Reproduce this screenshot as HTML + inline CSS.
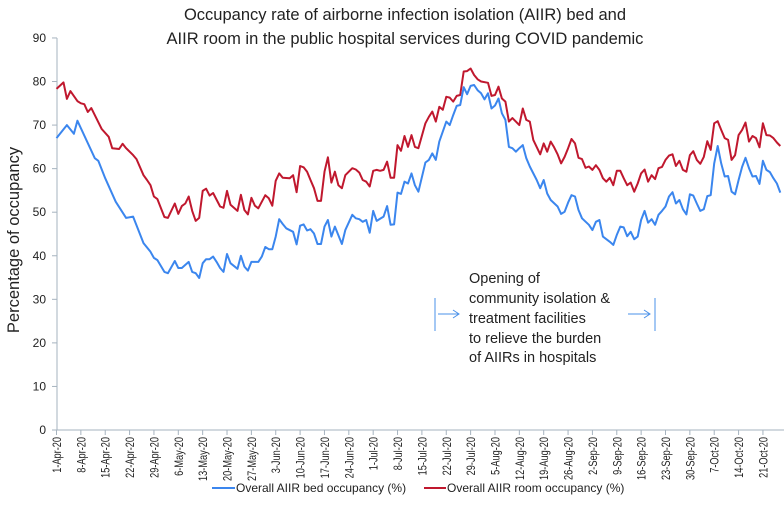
<!DOCTYPE html>
<html><head><meta charset="utf-8"><style>
html,body{margin:0;padding:0;background:#fff;}
svg{display:block;font-family:"Liberation Sans",sans-serif;}
</style></head><body>
<svg id="chart" width="784" height="518" viewBox="0 0 784 518" xmlns="http://www.w3.org/2000/svg">
<g>
<text x="405" y="20" text-anchor="middle" font-size="16.5" fill="#222">Occupancy rate of airborne infection isolation (AIIR) bed and</text>
<text x="405" y="44" text-anchor="middle" font-size="16.5" fill="#222">AIIR room in the public hospital services during COVID pandemic</text>
</g>
<text transform="translate(19,240) rotate(-90)" text-anchor="middle" font-size="16.5" fill="#222">Percentage of occupancy</text>
<g id="axes"></g>
<g id="series"></g>
<g font-size="14.5" fill="#222">
<text x="469" y="283">Opening of</text>
<text x="469" y="303">community isolation &amp;</text>
<text x="469" y="323">treatment facilities</text>
<text x="469" y="343">to relieve the burden</text>
<text x="469" y="362">of AIIRs in hospitals</text>
<g stroke="#4a90e8" stroke-width="1" fill="none">
<line x1="435" y1="298" x2="435" y2="331"/>
<line x1="438" y1="314" x2="459" y2="314"/>
<polyline points="453,310 459,314 453,318"/>
<line x1="628" y1="314" x2="650" y2="314"/>
<polyline points="644,310 650,314 644,318"/>
<line x1="655" y1="298" x2="655" y2="331"/>
</g>
</g>
<g font-size="12" fill="#222">
<g>
<line x1="212" y1="488" x2="235" y2="488" stroke="#3b86ee" stroke-width="2"/>
<text x="236" y="492">Overall AIIR bed occupancy (%)</text>
</g>
<g>
<line x1="424" y1="488" x2="446" y2="488" stroke="#c0182e" stroke-width="2"/>
<text x="447" y="492">Overall AIIR room occupancy (%)</text>
</g>
</g>
</svg>
<script>
const yTicks = [0,10,20,30,40,50,60,70,80,90];
const xTickLabels = ["1-Apr-20","8-Apr-20","15-Apr-20","22-Apr-20","29-Apr-20","6-May-20","13-May-20","20-May-20","27-May-20","3-Jun-20","10-Jun-20","17-Jun-20","24-Jun-20","1-Jul-20","8-Jul-20","15-Jul-20","22-Jul-20","29-Jul-20","5-Aug-20","12-Aug-20","19-Aug-20","26-Aug-20","2-Sep-20","9-Sep-20","16-Sep-20","23-Sep-20","30-Sep-20","7-Oct-20","14-Oct-20","21-Oct-20"];
const bedDays = [0,3,5,6,11,12,14,17,20,22,25,27,28,29,31,32,34,35,36,38,39,40,41,42,43,44,45,46,47,48,49,50,52,53,54,55,56,58,59,60,61,62,63,64,65,66,68,69,70,71,72,73,74,75,76,77,78,79,80,82,83,85,86,87,88,89,90,91,92,94,95,96,97,98,99,100,101,102,103,104,106,107,108,109,110,111,112,113,114,115,116,117,118,119,120,121,122,123,124,125,126,127,128,129,130,131,132,133,134,135,136,138,139,140,141,142,144,145,146,147,148,149,150,151,153,154,155,156,157,159,160,161,162,163,164,165,166,167,168,169,170,171,172,173,174,175,176,177,178,179,180,181,182,183,184,185,186,187,188,189,190,191,192,193,194,195,196,197,198,199,200,201,202,203,204,205,206,207,208];
const bedValues = [67,70,68,71,62.4,61.8,57.8,52.4,48.7,49,42.9,40.9,39.5,39,36.3,36,38.8,37.2,37.2,38.6,36.3,36,34.9,38.3,39.2,39.2,39.8,38.6,37.2,36.3,40.4,38.3,37,40,37.5,36.6,38.6,38.6,39.8,42,41.5,41.5,44.4,48.4,47.3,46.3,45.5,42.6,46.9,47.2,45.8,46.1,45.1,42.7,42.7,46.7,48.2,44.4,46.7,42.7,45.9,49.4,48.6,48.4,47.8,48.2,45.3,50.3,48,49,51.4,47.1,47.2,54.5,54.2,57,56.6,58.9,56.2,54.7,61.4,62,63.5,62,66.2,68.5,70.8,70,72.3,74.4,74.6,78.7,77.1,79,79.2,78,77.3,75.9,77.3,73.8,74.5,76.1,72.7,71.2,65,64.7,63.9,64.7,65.4,62.4,60.5,57.4,55.5,57.4,54.3,52.8,51.3,49.6,50.1,52.2,53.9,53.6,50.5,48.6,47.1,45.9,47.8,48.2,44.4,43.2,42.5,44.8,46.7,46.5,44.5,45.5,43.8,44.4,48.2,50.3,47.6,48.4,47.1,49.4,50.3,51.3,53.6,54.6,52,52.8,50.7,49.5,54.1,53.8,52,50.3,50.7,53.7,53.9,61.2,65.2,61.2,58.2,58.3,54.7,54.1,57.4,60.4,62.5,60.1,58.2,58.3,56.5,61.8,59.7,59.2,57.8,56.6,54.5];
const roomDays = [0,2,3,4,6,7,8,9,10,13,15,16,18,19,20,22,23,25,26,27,28,29,31,32,34,35,36,37,38,39,40,41,42,43,44,45,47,48,49,50,52,53,54,55,56,57,58,60,61,62,63,64,65,67,68,69,70,71,72,73,74,75,76,77,78,79,80,81,82,83,85,86,87,88,89,90,91,92,93,94,95,96,97,98,99,100,101,102,103,104,106,107,108,109,110,111,112,113,114,115,116,117,118,119,120,121,122,124,125,126,127,128,129,130,131,133,134,135,136,137,139,140,141,142,143,144,145,146,147,148,149,150,151,152,153,154,155,156,157,158,159,160,161,162,163,164,165,166,167,168,169,170,171,172,173,174,175,176,177,178,179,180,181,182,183,184,185,186,187,188,189,190,191,192,193,194,195,196,197,198,199,200,201,202,203,204,205,206,207,208];
const roomValues = [78.3,79.8,76,77.8,75.5,75,74.8,73,73.9,69.1,67.3,64.7,64.5,65.7,64.7,63.1,62.2,58.5,57.4,56.2,53.6,53,48.9,48.7,52,49.6,51.4,52,53.6,50.3,48,48.7,54.9,55.4,53.8,54.4,51.3,51,54.9,51.7,50.3,54,50.5,49.5,53.3,51.5,50.9,53.9,53.2,51.5,57.2,58.9,57.9,57.8,58.5,54.6,60.6,60.3,59.3,57.4,55.5,52.6,52.6,59.3,62.6,56.8,59.3,56.2,55.5,58.5,60.1,59.8,59.1,57.4,57,55.9,59.5,59.7,59.5,59.7,61.6,57.9,57.9,65.4,64.1,67.5,65,67.7,65,64.7,70.4,71.9,73.1,70.8,74.2,73.5,76.5,76.3,75.4,76.7,76.9,82.3,82.4,83,81.5,80.5,80,79.7,76.7,76.9,78.8,76.1,75.4,70.8,71.6,70,73.8,71.2,70.8,66.6,63.3,65.8,63.9,66.2,64.9,63.3,61.2,62.7,64.7,66.8,65.8,62.5,62.2,60.2,60.5,59.7,60.8,59.7,57.8,57,57.9,56.2,59.5,59.5,57.8,56.2,56.8,54.7,56.6,58.9,59.8,57,58.5,57.6,60.1,60.4,62,63,63.3,60.6,61.8,59.7,59.3,63.1,64,62,61.1,62.7,66.3,64.3,70.4,70.9,68.9,67,66.6,62,63.1,67.7,68.9,70.6,66.2,67.5,67,64.9,70.4,67.7,67.6,67,66,65.2];

const NS = "http://www.w3.org/2000/svg";
const X0 = 56.5, PX_PER_DAY = 3.48, Y0 = 430, PX_PER_UNIT = 4.356;
function xScale(d){ return X0 + d * PX_PER_DAY; }
function yScale(v){ return Y0 - v * PX_PER_UNIT; }
function mk(tag, attrs){ const e = document.createElementNS(NS, tag); for (const k in attrs) e.setAttribute(k, attrs[k]); return e; }

const axes = document.getElementById('axes');
const yAxis = mk('line', {x1:57, y1:yScale(90), x2:57, y2:Y0, stroke:'#a6b3bf', 'stroke-width':1});


axes.appendChild(yAxis);
const xAxis = mk('line', {x1:57, y1:Y0, x2:784, y2:Y0, stroke:'#a6b3bf', 'stroke-width':1});


axes.appendChild(xAxis);
yTicks.forEach(v => {
  const y = yScale(v);
  const t = mk('line', {x1:52, y1:y, x2:57, y2:y, stroke:'#a6b3bf', 'stroke-width':1});
  
  
  axes.appendChild(t);
  const l = mk('text', {x:46, y:y + 4, 'text-anchor':'end', 'font-size':12, fill:'#222'});
  l.textContent = v;
  
  
  axes.appendChild(l);
});
xTickLabels.forEach((lab, i) => {
  const x = xScale(i * 7);
  const t = mk('line', {x1:x, y1:Y0, x2:x, y2:Y0 + 5, stroke:'#a6b3bf', 'stroke-width':1});
  
  
  axes.appendChild(t);
  const l = mk('text', {transform:'translate(' + (x + 4.5) + ',437) rotate(-90) scale(0.8,1)', 'text-anchor':'end', 'font-size':11.5, fill:'#222'});
  l.textContent = lab;
  
  
  axes.appendChild(l);
});

const series = document.getElementById('series');
function drawLine(days, vals, color, name){
  const pts = days.map((d, i) => xScale(d).toFixed(1) + ',' + yScale(vals[i]).toFixed(1)).join(' ');
  const p = mk('polyline', {points:pts, fill:'none', stroke:color, 'stroke-width':2, 'stroke-linejoin':'round'});
  
  
  series.appendChild(p);
}
drawLine(roomDays, roomValues, '#c0182e', 'room-occupancy-line');
drawLine(bedDays, bedValues, '#3b86ee', 'bed-occupancy-line');
</script>
</body></html>
